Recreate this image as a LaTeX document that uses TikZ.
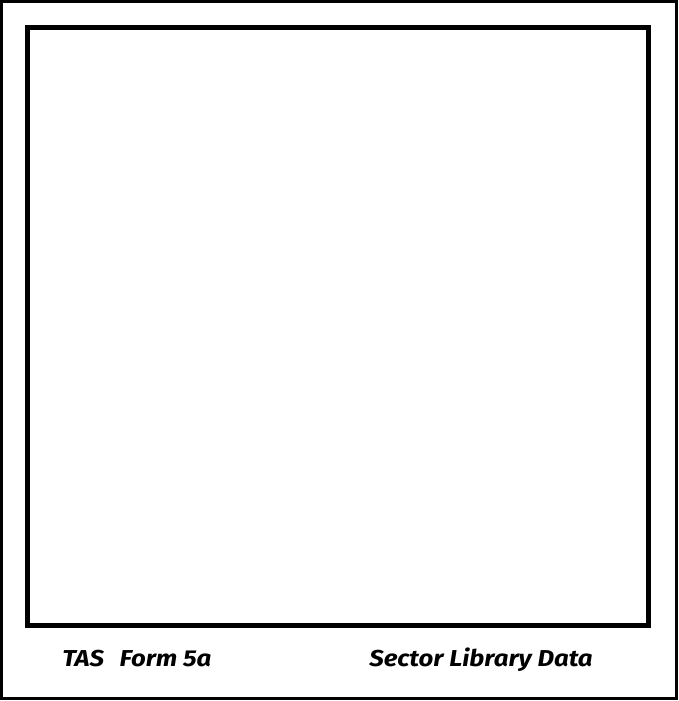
\documentclass[tikz,border=0pt]{standalone}
\usepackage{fontspec}
\setmainfont{Fira Sans}[FakeStretch=1.12]
\usetikzlibrary{positioning}

\begin{document}
\begin{tikzpicture}[x=1pt, y=-1pt, semithick]
    \tikzstyle{frame}=[draw=black, line width=3pt]
    \tikzstyle{panel}=[draw=black, line width=5pt]
    \tikzstyle{caption}=[inner sep=0pt, anchor=base west, font=\fontsize{23}{26}\selectfont\bfseries\itshape]
    \useasboundingbox (0,0) rectangle (678,701);

    \draw[frame] (1.5,1.5) rectangle (676.5,698.5);
    \draw[panel] (27.5,27.5) rectangle (648.5,625.5);

    \node[caption] (form) at (62,666) {TAS\ \ \,Form 5a};
    \node[caption] (sector) at (369,666) {Sector Library Data};
\end{tikzpicture}
\end{document}
